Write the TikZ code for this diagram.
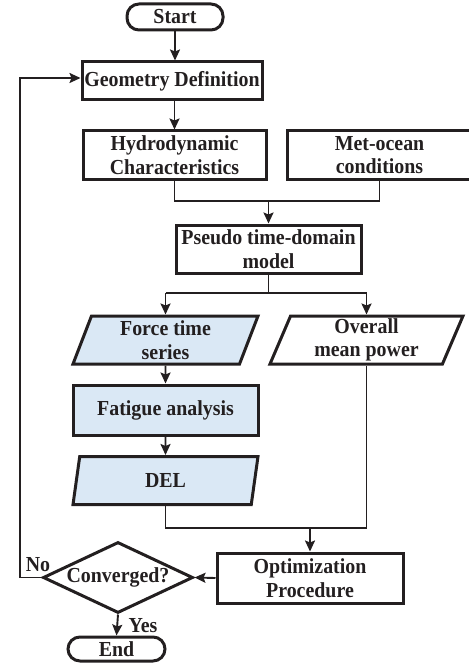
\documentclass[tikz,border=0pt]{standalone}
\usepackage{fontspec}
\setmainfont[FakeStretch=0.93]{Liberation Serif}
\usetikzlibrary{shapes.geometric,arrows.meta,calc}
\definecolor{ink}{HTML}{231F20}
\definecolor{pale}{HTML}{DAE8F5}
\begin{document}
\begin{tikzpicture}[x=1pt,y=-1pt,
  every node/.style={font=\fontsize{21.4}{23.5}\selectfont\bfseries, text=ink, align=center, inner sep=0pt},
  box/.style={draw=ink, line width=3pt, rectangle, minimum width=#1},
  box/.default=185,
  term/.style={draw=ink, line width=3pt, rectangle, rounded corners=12pt, minimum width=96, minimum height=26},
  para/.style={draw=ink, line width=3pt, trapezium, trapezium left angle=64.4, trapezium right angle=115.6, trapezium stretches body, minimum width=#1, minimum height=48},
  para/.default=185,
  dec/.style={draw=ink, line width=3pt, diamond, aspect=2.1, minimum width=150, minimum height=71},
  conn/.style={draw=ink, line width=1.9pt},
  arr/.style={conn, -{Stealth[length=11pt,width=10pt,inset=2pt]}},
  lbl/.style={font=\fontsize{21.4}{23.5}\selectfont\bfseries}
]
\useasboundingbox (0,0) rectangle (468,663);

\node[term] (start) at (175,17) {Start};
\node[box=180, minimum height=38] (geom) at (172,81) {Geometry Definition};
\node[box=183, minimum height=48] (hydro) at (174.5,155) {Hydrodynamic\\Characteristics};
\node[box=185, minimum height=48] (met) at (379.5,155) {Met-ocean\\conditions};
\node[box=185, minimum height=48] (pseudo) at (268.5,249) {Pseudo time-domain\\model};
\node[para=185, fill=pale] (force) at (165.5,340) {Force time\\series};
\node[para=193] (overall) at (366.5,340) {Overall\\mean power};
\node[box=185, minimum height=50, fill=pale] (fatigue) at (165.5,410) {Fatigue analysis};
\node[para=185, fill=pale] (del) at (165.5,480.5) {DEL};
\node[box=186, minimum height=50] (opt) at (310,578) {Optimization\\Procedure};
\node[dec] (conv) at (118,577.5) {Converged?};
\node[term, minimum width=97, minimum height=24] (end) at (116.5,649) {End};

\coordinate (j1) at (0,201);
\coordinate (j2) at (0,293);
\coordinate (j3) at (0,528);
\coordinate (lp) at (20,0);

\draw[arr] (start.south) -- (start.south |- geom.north);
\draw[arr] (hydro.north |- geom.south) -- (hydro.north);
\draw[conn] (hydro.south) -- (hydro.south |- j1) -| (met.south);
\draw[arr] (pseudo.north |- j1) -- (pseudo.north);
\draw[conn] (pseudo.south) -- (pseudo.south |- j2);
\draw[conn] (force.north |- j2) -- (overall.north |- j2);
\draw[arr] (force.north |- j2) -- (force.north);
\draw[arr] (overall.north |- j2) -- (overall.north);
\draw[arr] (force.south) -- (fatigue.north);
\draw[arr] (fatigue.south) -- (del.north);
\draw[conn] (del.south) -- (del.south |- j3) -| (overall.south);
\draw[arr] (opt.north |- j3) -- (opt.north);
\draw[arr] (opt.west) -- (conv.east);
\draw[arr] (conv.west) -- (conv.west -| lp) -- (lp |- 0,78) -- (geom.west |- 0,78);
\draw[arr] (conv.south) -- (end.north);
\node[lbl] (no) at (38,565) {No};
\node[lbl] (yes) at (143,626) {Yes};
\end{tikzpicture}
\end{document}
